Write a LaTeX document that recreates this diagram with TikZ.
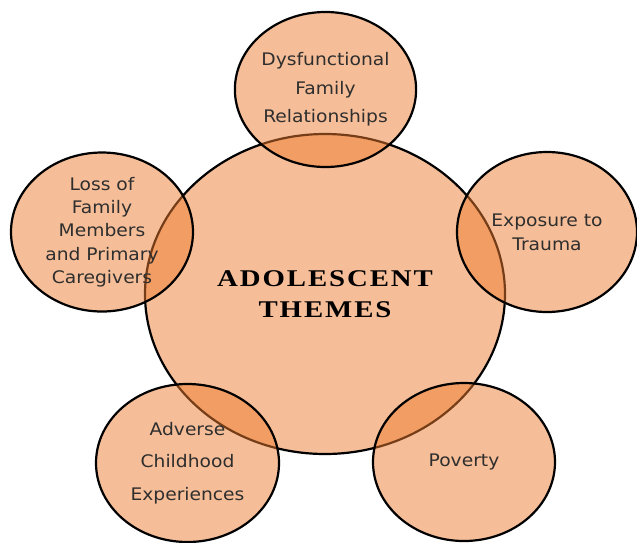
\documentclass[tikz,border=0pt]{standalone}
\usepackage{fontspec}
\setmainfont{DejaVu Sans}[FakeStretch=1.08]
\newfontfamily\titlefont[FakeStretch=1.2,LetterSpace=8]{Liberation Serif}
\usetikzlibrary{shapes.geometric}

\definecolor{accent}{HTML}{ED7D31}
\definecolor{ink}{HTML}{2E2E2E}

\tikzset{
  theme/.style={ellipse, draw=black, line width=2.2pt, fill=accent,
    fill opacity=0.5, text opacity=1, inner sep=0pt, align=center, text=ink},
  satfont/.style={font=\fontsize{17.3}{#1}\selectfont}
}

\begin{document}
\begin{tikzpicture}[x=1pt, y=-1pt]
  \useasboundingbox (0,0) rectangle (637,542);

  % central theme
  \node[theme, minimum width=360pt, minimum height=320pt, text=black,
        font=\titlefont\bfseries\fontsize{24}{31}\selectfont]
        (core) at (325,294) {ADOLESCENT\\THEMES};

  % surrounding themes
  \node[theme, minimum width=181pt, minimum height=155pt, satfont=28.5]
        (family) at (325.5,89.5) {Dysfunctional\\Family\\Relationships};
  \node[theme, minimum width=180pt, minimum height=160pt, satfont=24]
        (trauma) at (547,232) {Exposure to\\Trauma};
  \node[theme, minimum width=182pt, minimum height=159pt, satfont=23.3]
        (loss) at (102,232) {Loss of\\Family\\Members\\and Primary\\Caregivers};
  \node[theme, minimum width=183pt, minimum height=158pt, satfont=32.5]
        (aces) at (187.5,463) {Adverse\\Childhood\\Experiences};
  \node[theme, minimum width=182pt, minimum height=158pt, satfont=24]
        (poverty) at (464,462) {\raisebox{-3pt}{Poverty}};
\end{tikzpicture}
\end{document}
